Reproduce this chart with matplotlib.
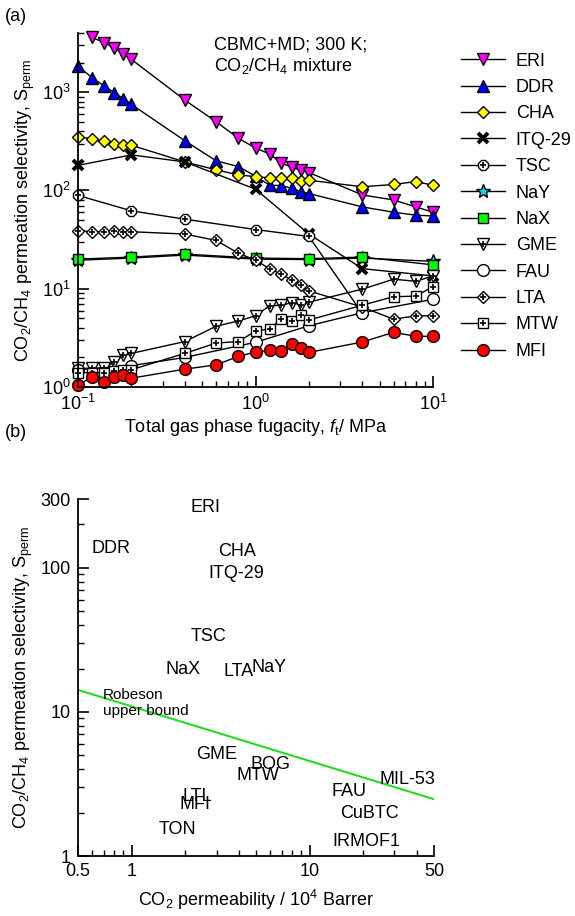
import numpy as np
import matplotlib
matplotlib.use("Agg")
import matplotlib.pyplot as plt
from matplotlib.ticker import LogLocator, NullFormatter, FixedLocator
from matplotlib.legend_handler import HandlerTuple

plt.rcParams["font.family"] = ["Liberation Sans", "DejaVu Sans"]
plt.rcParams["mathtext.fontset"] = "custom"
plt.rcParams["mathtext.rm"] = "Liberation Sans"
plt.rcParams["mathtext.it"] = "Liberation Sans:italic"
plt.rcParams["font.size"] = 13

# ---- panel (a): permeation selectivity vs total fugacity ----
F6 = [0.1, 0.12, 0.14, 0.16, 0.18, 0.2]
F_MID = [0.4, 0.6, 0.8, 1.0, 1.2, 1.4, 1.6, 1.8, 2.0, 4, 6, 8, 10]
F_FULL = F6 + F_MID
F_COARSE = [0.1, 0.2, 0.4, 1, 2, 4, 10]

eri_f = F_FULL[1:]
eri_s = [3600, 3200, 2800, 2450, 2150, 830, 500, 340, 270, 235, 190, 172, 160, 152, 90, 80, 68, 60]
ddr_s = [1850, 1400, 1160, 990, 860, 750, 320, 200, 175, 140, 113, 112, 105, 97, 93, 68, 60, 56, 55]
cha_s = [350, 335, 315, 300, 290, 288, 195, 162, 144, 138, 134, 134, 134, 126, 127, 109, 115, 123, 113]
itq_s = [180, 230, 195, 103, 36, 16, 13.5]
tsc_f = [0.1, 0.2, 0.4, 1, 2, 4]
tsc_s = [89, 62, 51, 40, 34, 5.6]
nay_s = [19.5, 20.5, 22, 20, 19.8, 20.5, 19]
nax_s = [20, 21, 22.5, 20.5, 20.2, 21, 17.5]
gme_s = [1.55, 1.55, 1.55, 1.8, 2.1, 2.2, 2.9, 4.15, 4.7, 5.3, 6.7, 6.8, 7.2, 6.9, 7.3, 9.9, 12.5, 11.9, 13.5]
fau_s = [1.5, 1.65, 2.0, 2.85, 4.2, 5.7, 7.8]
lta_s = [39, 38, 38, 39, 38, 38, 36, 31, 23, 19.5, 16, 14, 12.3, 10.8, 9.5, 6.5, 4.9, 5.3, 5.3]
mtw_s = [1.4, 1.4, 1.4, 1.45, 1.5, 1.5, 2.2, 2.8, 2.9, 3.7, 3.9, 4.95, 4.7, 5.35, 4.8, 6.8, 8.3, 8.4, 10.5]
mfi_s = [1.05, 1.26, 1.12, 1.26, 1.33, 1.23, 1.52, 1.68, 2.05, 2.27, 2.36, 2.3, 2.76, 2.5, 2.25, 2.87, 3.6, 3.28, 3.28]

# ---- panel (b): selectivity vs CO2 permeability ----
names = ["ERI", "DDR", "CHA", "ITQ-29", "TSC", "NaX", "LTA", "NaY", "GME", "BOG",
         "MTW", "LTL", "MFI", "TON", "FAU", "MIL-53", "CuBTC", "IRMOF1"]
perm = [2.6, 0.77, 3.9, 3.9, 2.7, 1.95, 4.0, 5.9, 3.0, 6.0,
        5.1, 2.33, 2.28, 1.8, 16.7, 35.6, 21.8, 20.9]
sel = [260, 136, 129, 92, 33.4, 19.6, 19.2, 20.3, 5.06, 4.31,
       3.61, 2.59, 2.27, 1.52, 2.81, 3.39, 1.96, 1.27]
rob_p = [0.5, 50]
rob_s = [14.2, 2.48]

fig = plt.figure(figsize=(5.75, 9.16), dpi=100)
ax = fig.add_axes([0.1357, 0.5775, 0.6173, 0.3865])
bx = fig.add_axes([0.1357, 0.0655, 0.6190, 0.3897])

series = [
    ("ERI", eri_f, eri_s, dict(marker="v", mfc="#ff00ff"), False),
    ("DDR", F_FULL, ddr_s, dict(marker="^", mfc="#0000ff"), False),
    ("CHA", F_FULL, cha_s, dict(marker="D", mfc="#ffff00", ms=6.5), False),
    ("ITQ-29", F_COARSE, itq_s, dict(marker="x", mec="black", mew=2.8, ms=7.5), False),
    ("TSC", tsc_f, tsc_s, dict(marker="8", mfc="white", ms=8), True),
    ("NaY", F_COARSE, nay_s, dict(marker="*", mfc="#00e5ee", ms=10.5), False),
    ("NaX", F_COARSE, nax_s, dict(marker="s", mfc="#00ff00", ms=7.5), False),
    ("GME", F_FULL, gme_s, dict(marker="v", mfc="white"), True),
    ("FAU", F_COARSE, fau_s, dict(marker="o", mfc="white", ms=8.5), False),
    ("LTA", F_FULL, lta_s, dict(marker="D", mfc="white", ms=6.5), True),
    ("MTW", F_FULL, mtw_s, dict(marker="s", mfc="white", ms=7.5), True),
    ("MFI", F_FULL, mfi_s, dict(marker="o", mfc="#ff0000", ms=8.5), False),
]

handles = []
for name, f, s, st, plus in series:
    kw = dict(color="black", lw=1, ms=8, mec="black", mew=1, clip_on=False)
    kw.update(st)
    ln, = ax.plot(f, s, label=name, **kw)
    if plus:
        pl, = ax.plot(f, s, ls="none", marker="+", ms=4.5, mew=1.2, color="black", clip_on=False)
        handles.append((ln, pl))
    else:
        handles.append(ln)

ax.set_xscale("log")
ax.set_yscale("log")
ax.set_xlim(0.1, 10)
ax.set_ylim(1, 4000)
ax.set_xlabel("Total gas phase fugacity, $f_{\\rm t}$/ MPa", labelpad=2)
ax.set_ylabel("CO$_2$/CH$_4$ permeation selectivity, S$_{\\rm perm}$", labelpad=4)
ax.text(0.383, 0.99, "CBMC+MD; 300 K;\nCO$_2$/CH$_4$ mixture", transform=ax.transAxes,
        ha="left", va="top", linespacing=1.15)

ax.legend(handles, [s[0] for s in series], loc="upper left", bbox_to_anchor=(1.06, 0.965),
          frameon=False, handlelength=2.4, handletextpad=0.6, labelspacing=0.52,
          borderaxespad=0, handler_map={tuple: HandlerTuple(ndivide=1)})

bx.plot(rob_p, rob_s, color="#22dd22", lw=1.5)
for n, p, s in zip(names, perm, sel):
    bx.text(p, s, n, ha="center", va="center", fontsize=13)
bx.text(0.69, 11.6, "Robeson\nupper bound", ha="left", va="center", fontsize=11, linespacing=1.2)
bx.set_xscale("log")
bx.set_yscale("log")
bx.set_xlim(0.5, 50)
bx.set_ylim(1, 300)
bx.xaxis.set_major_locator(FixedLocator([0.5, 1, 10, 50]))
bx.set_xticklabels(["0.5", "1", "10", "50"])
bx.yaxis.set_major_locator(FixedLocator([1, 10, 100, 300]))
bx.set_yticklabels(["1", "10", "100", "300"])
bx.xaxis.set_minor_locator(FixedLocator([0.6, 0.7, 0.8, 0.9, 2, 3, 4, 5, 6, 7, 8, 9, 20, 30, 40]))
bx.yaxis.set_minor_locator(FixedLocator([2, 3, 4, 5, 6, 7, 8, 9, 20, 30, 40, 50, 60, 70, 80, 90, 200]))
bx.xaxis.set_minor_formatter(NullFormatter())
bx.yaxis.set_minor_formatter(NullFormatter())
bx.set_xlabel("CO$_2$ permeability / 10$^4$ Barrer", labelpad=6)
bx.set_ylabel("CO$_2$/CH$_4$ permeation selectivity, S$_{\\rm perm}$", labelpad=4)

ax.xaxis.set_minor_locator(LogLocator(base=10, subs=np.arange(2, 10)))
ax.yaxis.set_minor_locator(LogLocator(base=10, subs=np.arange(2, 10)))
ax.xaxis.set_minor_formatter(NullFormatter())
ax.yaxis.set_minor_formatter(NullFormatter())

for a in (ax, bx):
    for side in ("top", "right"):
        a.spines[side].set_visible(False)
    for side in ("left", "bottom"):
        a.spines[side].set_linewidth(1.3)
    a.tick_params(which="major", direction="in", length=8, width=1.2, labelsize=13, pad=5)
    a.tick_params(which="minor", direction="in", length=4, width=1.0)

fig.text(0.008, 0.982, "(a)", fontsize=13, ha="left", va="center")
fig.text(0.008, 0.528, "(b)", fontsize=13, ha="left", va="center")

fig.savefig("out.png", dpi=100)
